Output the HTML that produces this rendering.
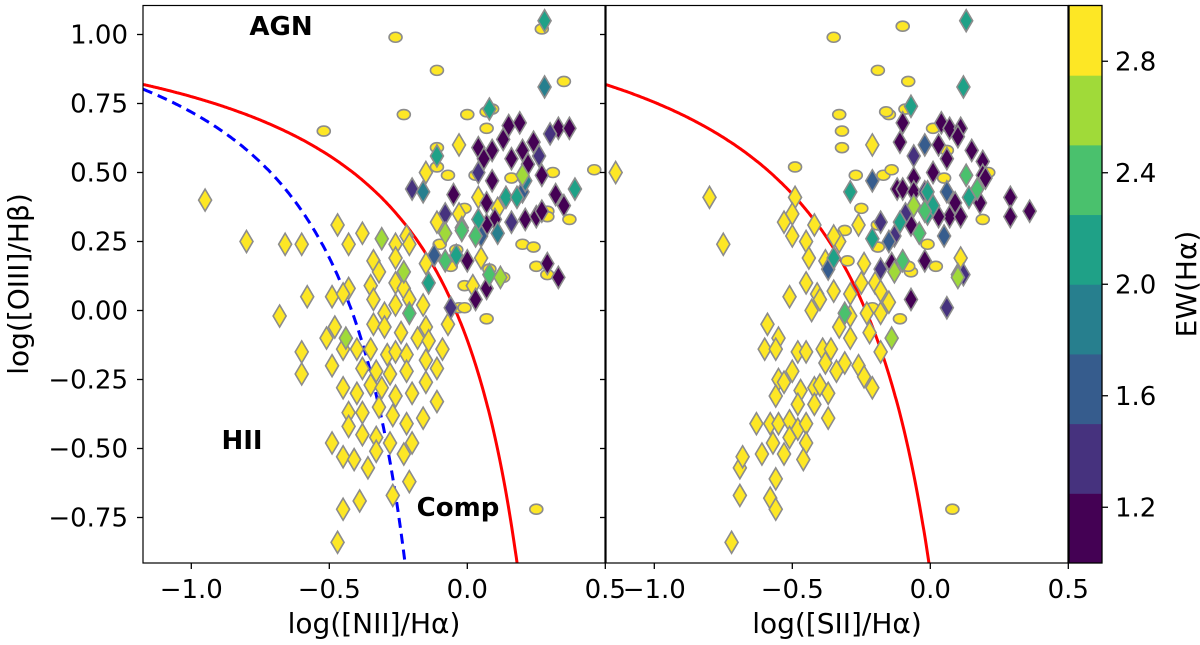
<!DOCTYPE html>
<html><head><meta charset="utf-8"><style>
html,body{margin:0;padding:0;background:#fff;width:1200px;height:645px;overflow:hidden}
svg text{font-family:"DejaVu Sans","Liberation Sans",sans-serif;fill:#000}
</style></head><body>
<svg id="chart" width="1200" height="645" viewBox="0 0 1200 645" xmlns="http://www.w3.org/2000/svg">
<defs>
<clipPath id="clipL"><rect x="143" y="5.5" width="462" height="557.5"/></clipPath>
<clipPath id="clipR"><rect x="606" y="5.5" width="462" height="557.5"/></clipPath>
</defs>
<g id="layer"></g>
</svg>
<script>
// ---- data: left panel log([NII]/Ha) ----
const niiCircX=[-0.26,-0.11,0.35,0.27,-0.23,-0.52,0.00,0.07,0.09,0.07,-0.11,-0.11,-0.07,0.31,0.46,0.03,0.16,0.29,0.29,0.37,-0.01,-0.04,0.20,0.24,0.25,0.29,0.08,-0.06,-0.01,-0.03,-0.01,0.07,0.25,-0.10,0.13];
const niiCircY=[0.99,0.87,0.83,1.02,0.71,0.65,0.71,0.66,0.73,0.72,0.59,0.52,0.49,0.50,0.51,0.49,0.48,0.36,0.34,0.33,0.37,0.22,0.24,0.23,0.16,0.13,0.15,0.16,0.09,0.01,0.01,-0.03,-0.72,0.24,0.12];
const niiDiaX=[-0.95,-0.80,-0.66,-0.60,-0.47,-0.43,-0.38,-0.26,-0.22,-0.21,-0.34,-0.32,-0.26,-0.15,-0.03,-0.15,-0.11,-0.03,0.04,0.11,0.02,0.05,-0.35,-0.43,-0.58,-0.49,-0.45,-0.34,-0.26,-0.23,-0.21,-0.16,-0.26,-0.30,-0.34,-0.30,-0.24,-0.15,-0.07,-0.68,-0.48,-0.51,-0.60,-0.49,-0.60,-0.45,-0.40,-0.35,-0.29,-0.26,-0.22,-0.18,-0.14,-0.09,-0.15,-0.11,-0.38,-0.33,-0.28,-0.22,-0.45,-0.40,-0.35,-0.31,-0.26,-0.20,-0.15,-0.11,-0.43,-0.38,-0.32,-0.27,-0.22,-0.16,-0.43,-0.38,-0.33,-0.49,-0.45,-0.41,-0.36,-0.33,-0.28,-0.23,-0.20,-0.21,-0.39,-0.45,-0.27,-0.47,
0.15,0.19,0.33,0.37,0.04,0.09,0.13,0.20,0.24,0.06,0.16,0.22,0.09,0.27,0.32,0.35,0.07,-0.05,0.10,0.07,0.21,0.25,0.27,0.00,0.29,0.33,0.03,0.07,
-0.20,-0.08,0.30,0.16,0.26,0.04,-0.06,-0.02,
-0.12,0.20,0.05,
0.28,0.28,-0.11,-0.16,0.08,0.21,0.14,0.18,0.39,0.11,0.04,-0.14,-0.04,
-0.21,-0.08,0.03,0.08,-0.02,
-0.31,-0.23,-0.08,0.12,-0.44,0.20];
const niiDiaY=[0.40,0.25,0.24,0.24,0.31,0.24,0.28,0.24,0.27,0.24,0.18,0.14,0.19,0.17,0.60,0.50,0.32,0.35,0.41,0.37,0.09,0.19,0.09,0.08,0.05,0.05,0.06,0.04,0.10,0.08,0.04,0.02,0.02,-0.01,-0.05,-0.06,-0.08,-0.06,-0.05,-0.02,-0.06,-0.10,-0.15,-0.20,-0.23,-0.14,-0.14,-0.14,-0.16,-0.15,-0.16,-0.10,-0.11,-0.14,-0.18,-0.21,-0.21,-0.22,-0.23,-0.22,-0.28,-0.30,-0.27,-0.28,-0.31,-0.30,-0.26,-0.33,-0.37,-0.37,-0.35,-0.38,-0.41,-0.39,-0.42,-0.45,-0.46,-0.48,-0.53,-0.54,-0.57,-0.51,-0.48,-0.52,-0.48,-0.62,-0.69,-0.72,-0.67,-0.84,
0.67,0.68,0.66,0.66,0.59,0.58,0.62,0.58,0.61,0.55,0.55,0.53,0.47,0.49,0.42,0.38,0.39,0.42,0.33,0.31,0.33,0.34,0.36,0.18,0.17,0.12,0.04,0.08,
0.44,0.35,0.64,0.32,0.56,0.50,0.01,0.30,
0.20,0.43,0.27,
1.05,0.81,0.56,0.43,0.73,0.47,0.41,0.41,0.44,0.28,0.33,0.10,0.20,
-0.01,0.18,0.27,0.13,0.29,
0.26,0.14,0.28,0.12,-0.10,0.49];
const niiDiaEW=[2.9,2.9,2.9,2.9,2.9,2.9,2.9,2.9,2.9,2.9,2.9,2.9,2.9,2.9,2.9,2.9,2.9,2.9,2.9,2.9,2.9,2.9,2.9,2.9,2.9,2.9,2.9,2.9,2.9,2.9,2.9,2.9,2.9,2.9,2.9,2.9,2.9,2.9,2.9,2.9,2.9,2.9,2.9,2.9,2.9,2.9,2.9,2.9,2.9,2.9,2.9,2.9,2.9,2.9,2.9,2.9,2.9,2.9,2.9,2.9,2.9,2.9,2.9,2.9,2.9,2.9,2.9,2.9,2.9,2.9,2.9,2.9,2.9,2.9,2.9,2.9,2.9,2.9,2.9,2.9,2.9,2.9,2.9,2.9,2.9,2.9,2.9,2.9,2.9,2.9,
1.1,1.1,1.1,1.1,1.1,1.1,1.1,1.1,1.1,1.1,1.1,1.1,1.1,1.1,1.1,1.1,1.1,1.1,1.1,1.1,1.1,1.1,1.1,1.1,1.1,1.1,1.1,1.1,
1.4,1.4,1.4,1.4,1.4,1.4,1.4,1.4,
1.7,1.7,1.7,
2.05,1.95,2.05,1.95,2.05,1.95,2.05,2.05,2.1,1.95,2.05,2.05,2.1,
2.4,2.4,2.4,2.4,2.4,
2.6,2.6,2.6,2.6,2.6,2.6];
// ---- data: right panel log([SII]/Ha) ----
const siiCircX=[-0.35,-0.10,-0.19,-0.08,-0.33,-0.15,-0.09,-0.32,-0.32,-0.49,-0.27,-0.17,-0.14,-0.25,-0.31,-0.19,-0.07,0.02,-0.11,0.05,0.01,0.06,0.19,0.21,-0.01,-0.19,-0.21,-0.16,0.08,-0.30,-0.08];
const siiCircY=[0.99,1.03,0.87,0.83,0.71,0.71,0.73,0.65,0.59,0.52,0.49,0.49,0.51,0.37,0.29,0.23,0.14,0.16,-0.03,0.48,0.66,0.58,0.33,0.50,0.24,0.31,0.01,0.72,-0.72,0.18,0.16];
const siiDiaX=[-1.14,-0.80,-0.75,-0.21,-0.49,-0.50,-0.53,-0.50,-0.45,-0.42,-0.44,-0.38,-0.33,-0.26,-0.35,-0.45,-0.51,-0.41,-0.35,-0.29,-0.43,-0.40,-0.25,-0.20,-0.24,-0.18,-0.15,-0.23,-0.18,-0.29,-0.33,-0.29,-0.22,-0.18,-0.59,-0.55,-0.60,-0.56,-0.48,-0.45,-0.39,-0.36,-0.31,-0.26,-0.38,-0.34,-0.24,-0.21,-0.50,-0.55,-0.53,-0.56,-0.47,-0.42,-0.37,-0.40,-0.48,-0.42,-0.37,-0.63,-0.58,-0.55,-0.51,-0.48,-0.45,-0.57,-0.51,-0.45,-0.61,-0.53,-0.46,-0.69,-0.68,-0.56,-0.69,-0.58,-0.56,-0.72,0.11,-0.06,0.10,
-0.10,-0.11,0.04,0.07,0.11,0.03,0.06,0.15,0.19,-0.06,0.01,-0.12,-0.10,-0.06,0.19,0.29,0.29,0.36,0.07,0.11,0.03,0.18,0.09,-0.07,-0.02,-0.07,-0.14,0.20,0.10,
-0.06,-0.02,-0.18,-0.13,0.06,-0.09,0.12,-0.18,
-0.02,0.06,0.05,-0.21,-0.37,-0.15,
0.13,0.12,-0.07,-0.29,-0.21,-0.35,-0.01,-0.01,0.01,0.14,-0.11,
-0.31,0.13,-0.04,-0.10,0.17,-0.02,
-0.14,-0.13,0.10,-0.06];
const siiDiaY=[0.50,0.41,0.24,0.60,0.41,0.35,0.32,0.27,0.25,0.31,0.19,0.18,0.25,0.31,0.27,0.10,0.05,0.06,0.07,0.06,0.00,0.04,0.10,0.10,0.17,0.07,0.03,-0.01,-0.01,-0.02,-0.06,-0.10,-0.08,-0.15,-0.05,-0.10,-0.14,-0.14,-0.15,-0.15,-0.14,-0.14,-0.19,-0.20,-0.19,-0.22,-0.24,-0.28,-0.22,-0.25,-0.26,-0.31,-0.29,-0.28,-0.30,-0.27,-0.34,-0.34,-0.39,-0.41,-0.41,-0.41,-0.40,-0.43,-0.41,-0.48,-0.46,-0.48,-0.52,-0.52,-0.54,-0.57,-0.53,-0.61,-0.67,-0.68,-0.72,-0.84,0.19,0.38,0.13,
0.68,0.61,0.68,0.66,0.66,0.60,0.55,0.58,0.54,0.48,0.50,0.44,0.44,0.43,0.49,0.41,0.34,0.36,0.34,0.34,0.34,0.39,0.39,0.31,0.18,0.04,0.17,0.48,0.63,
0.56,0.43,0.32,0.27,0.01,0.35,0.13,0.15,
0.60,0.43,0.27,0.47,0.15,0.25,
1.05,0.81,0.74,0.43,0.26,0.19,0.43,0.35,0.38,0.41,0.32,
-0.01,0.49,0.28,0.18,0.44,0.36,
-0.10,0.14,0.12,0.38];
const siiDiaEW=[2.9,2.9,2.9,2.9,2.9,2.9,2.9,2.9,2.9,2.9,2.9,2.9,2.9,2.9,2.9,2.9,2.9,2.9,2.9,2.9,2.9,2.9,2.9,2.9,2.9,2.9,2.9,2.9,2.9,2.9,2.9,2.9,2.9,2.9,2.9,2.9,2.9,2.9,2.9,2.9,2.9,2.9,2.9,2.9,2.9,2.9,2.9,2.9,2.9,2.9,2.9,2.9,2.9,2.9,2.9,2.9,2.9,2.9,2.9,2.9,2.9,2.9,2.9,2.9,2.9,2.9,2.9,2.9,2.9,2.9,2.9,2.9,2.9,2.9,2.9,2.9,2.9,2.9,2.9,2.9,2.9,
1.1,1.1,1.1,1.1,1.1,1.1,1.1,1.1,1.1,1.1,1.1,1.1,1.1,1.1,1.1,1.1,1.1,1.1,1.1,1.1,1.1,1.1,1.1,1.1,1.1,1.1,1.1,1.1,1.1,
1.4,1.4,1.4,1.4,1.4,1.4,1.4,1.4,
1.7,1.7,1.7,1.7,1.7,1.7,
2.05,2.05,2.05,2.05,2.05,2.05,2.05,2.05,2.05,2.05,2.05,
2.4,2.4,2.4,2.4,2.4,2.4,
2.6,2.6,2.6,2.6];
const yTicks=[1.00,0.75,0.50,0.25,0.00,-0.25,-0.50,-0.75];
const yTickLabels=["1.00","0.75","0.50","0.25","0.00","\u22120.25","\u22120.50","\u22120.75"];
const xTicks=[-1.0,-0.5,0.0,0.5];
const xTickLabels=["\u22121.0","\u22120.5","0.0","0.5"];
const cbTicks=[1.2,1.6,2.0,2.4,2.8];
const cbTickLabels=["1.2","1.6","2.0","2.4","2.8"];
const cbBounds=[1.0,1.25,1.5,1.75,2.0,2.25,2.5,2.75,3.0];
const cbColors=["#440154","#46327e","#365c8d","#277f8e","#1fa187","#4ac16d","#a0da39","#fde725"];

// ---- scales ----
const XMIN=-1.175, PX=276, Y0=310.5, TOP=5.5, BOT=563;
const sxL=x=>143+(x-XMIN)*PX, sxR=x=>606+(x-XMIN)*PX, sy=y=>Y0-y*PX;
const cbY=v=>BOT-(v-1.0)/(2.0)*(BOT-TOP);
const ewColor=v=>{for(let i=0;i<8;i++){if(v<cbBounds[i+1])return cbColors[i];}return cbColors[7];};
const NS="http://www.w3.org/2000/svg";
const layer=document.getElementById('layer');
function mk(tag,attrs,parent){const e=document.createElementNS(NS,tag);for(const k in attrs)e.setAttribute(k,attrs[k]);(parent||layer).appendChild(e);return e;}

function panel(sx,clip,cx,cy,dx,dy,dew,nm,curves){
  const g=mk('g',{'clip-path':'url(#'+clip+')'});
  
  
  curves.forEach(c=>{
    let d='';
    for(let x=XMIN;x<c.xmax;x+=0.004){const y=c.f(x);if(y<-1.2)break;d+=(d?'L':'M')+sx(x).toFixed(1)+','+sy(y).toFixed(1);}
    const p=mk('path',{d:d,fill:'none',stroke:c.color,'stroke-width':3,'stroke-dasharray':c.dash||'none'},g);
    
    
  });
  for(let i=0;i<cx.length;i++){
    const e=mk('ellipse',{cx:sx(cx[i]),cy:sy(cy[i]),rx:6.5,ry:5,fill:'#fde725',stroke:'#8c8c8c','stroke-width':1.6},g);
    
    
  }
  for(let i=0;i<dx.length;i++){
    const X=sx(dx[i]),Y=sy(dy[i]);
    const e=mk('polygon',{points:`${X},${Y-11} ${X+6.5},${Y} ${X},${Y+11} ${X-6.5},${Y}`,fill:ewColor(dew[i]),stroke:'#8c8c8c','stroke-width':1.6},g);
    
    
  }
}
panel(sxL,'clipL',niiCircX,niiCircY,niiDiaX,niiDiaY,niiDiaEW,'nii',[
 {f:x=>0.61/(x-0.47)+1.19,xmax:0.46,color:'#ff0000',name:'kewley-line-nii'},
 {f:x=>0.61/(x-0.05)+1.3,xmax:0.04,color:'#0000ff',dash:'10,6',name:'kauffmann-line'}]);
panel(sxR,'clipR',siiCircX,siiCircY,siiDiaX,siiDiaY,siiDiaEW,'sii',[
 {f:x=>0.72/(x-0.32)+1.30,xmax:0.31,color:'#ff0000',name:'kewley-line-sii'}]);

// frames & axes
[[143,'nii'],[606,'sii']].forEach(([x0,nm])=>{
  const r=mk('rect',{x:x0,y:TOP,width:462,height:BOT-TOP,fill:'none',stroke:'#000','stroke-width':1.2});
  
  
  const sx=x0===143?sxL:sxR;
  xTicks.forEach((v,i)=>{
    const t=mk('line',{x1:sx(v),x2:sx(v),y1:BOT,y2:BOT+6,stroke:'#000','stroke-width':1.3});
    
    
    const l=mk('text',{x:sx(v),y:598,'text-anchor':'middle','font-size':26});
    l.textContent=xTickLabels[i];
    
    
  });
  yTicks.forEach(v=>{
    const t=mk('line',{x1:x0-6,x2:x0,y1:sy(v),y2:sy(v),stroke:'#000','stroke-width':1.3});
    
    
  });
});
yTicks.forEach((v,i)=>{
  const l=mk('text',{x:128,y:sy(v)+9,'text-anchor':'end','font-size':26});
  l.textContent=yTickLabels[i];
  
  
});
// colorbar
for(let i=0;i<8;i++){
  const r=mk('rect',{x:1069,y:cbY(cbBounds[i+1]),width:33,height:cbY(cbBounds[i])-cbY(cbBounds[i+1])+0.5,fill:cbColors[i]});
  
  
}
const cbf=mk('rect',{x:1069,y:TOP,width:33,height:BOT-TOP,fill:'none',stroke:'#000','stroke-width':1.3});


cbTicks.forEach((v,i)=>{
  const t=mk('line',{x1:1102,x2:1108,y1:cbY(v),y2:cbY(v),stroke:'#000','stroke-width':1.3});
  
  
  const l=mk('text',{x:1115,y:cbY(v)+9,'font-size':26});
  l.textContent=cbTickLabels[i];
  
  
});
</script>
<svg width="1200" height="645" style="position:absolute;left:0;top:0;pointer-events:none" xmlns="http://www.w3.org/2000/svg">
<text x="374" y="633" text-anchor="middle" font-size="28">log([NII]/Hα)</text>
<text x="837" y="633" text-anchor="middle" font-size="28">log([SII]/Hα)</text>
<text transform="translate(28,284) rotate(-90)" text-anchor="middle" font-size="28">log([OIII]/Hβ)</text>
<text transform="translate(1196,284) rotate(-90)" text-anchor="middle" font-size="28">EW(Hα)</text>
<text x="281" y="35" text-anchor="middle" font-size="26" font-weight="bold">AGN</text>
<text x="242" y="449" text-anchor="middle" font-size="26" font-weight="bold">HII</text>
<text x="458" y="516" text-anchor="middle" font-size="26" font-weight="bold">Comp</text>
</svg>
</body></html>
